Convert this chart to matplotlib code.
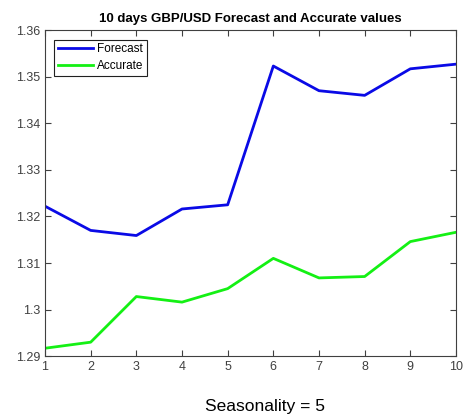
import matplotlib.pyplot as plt
import numpy as np

plt.rcParams['font.family'] = ['Liberation Sans', 'DejaVu Sans']

# days and the two GBP/USD series
days = np.arange(1, 11)
forecast = [1.3222, 1.3170, 1.3159, 1.3216, 1.3225, 1.3523, 1.3470, 1.3460, 1.3517, 1.3527]
accurate = [1.2917, 1.2930, 1.3028, 1.3016, 1.3045, 1.3110, 1.3068, 1.3071, 1.3146, 1.3166]
yticks = [1.29, 1.30, 1.31, 1.32, 1.33, 1.34, 1.35, 1.36]
ylabels = ['1.29', '1.3', '1.31', '1.32', '1.33', '1.34', '1.35', '1.36']

fig = plt.figure(figsize=(4.66, 4.19), dpi=100)
ax = fig.add_axes([0.0966, 0.150, 0.8819, 0.778])

ax.plot(days, forecast, color='#0a0ae6', lw=2, label='Forecast')
ax.plot(days, accurate, color='#14f014', lw=2, label='Accurate')

ax.set_xlim(1, 10)
ax.set_ylim(1.29, 1.36)
ax.set_xticks(days)
ax.set_yticks(yticks)
ax.set_yticklabels(ylabels)
ax.tick_params(direction='in', top=True, right=True, labelsize=9,
               colors='#404040', length=4, width=0.8)
for s in ax.spines.values():
    s.set_color('#404040')
    s.set_linewidth(0.8)

ax.set_title('10 days GBP/USD Forecast and Accurate values',
             fontsize=9.5, fontweight='bold', pad=6)

leg = ax.legend(loc='upper left', fontsize=8.5, fancybox=False,
                edgecolor='#202020', framealpha=1, handlelength=3.0,
                borderpad=0.3, labelspacing=0.45, handletextpad=0.3,
                borderaxespad=0.8)
leg.get_frame().set_linewidth(0.8)

fig.text(0.568, 0.031, 'Seasonality = 5', ha='center', va='center', fontsize=12.5)

fig.savefig('out.png', dpi=100)
